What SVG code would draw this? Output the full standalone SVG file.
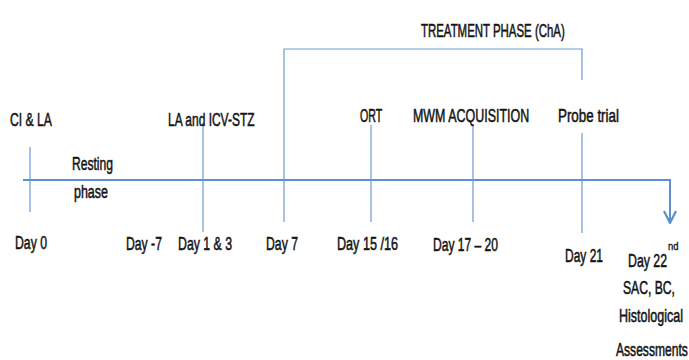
<svg xmlns="http://www.w3.org/2000/svg" width="689" height="360" viewBox="0 0 689 360">
<style>
text{font-family:"Liberation Sans",Arial,sans-serif;font-size:19px;fill:#141414;stroke:#141414;stroke-width:0.55}
text.sup{font-size:10px;stroke-width:0.3}
.tick{stroke:#6b9bd6;stroke-width:1.2;fill:none}
.main{stroke:#5b8fd0;stroke-width:2;fill:none}
</style>
<defs>
<marker id="ah" viewBox="0 0 14 14" refX="13" refY="7" markerWidth="14" markerHeight="14" markerUnits="userSpaceOnUse" orient="auto">
<path d="M1,1 L13,7 L1,13" fill="none" stroke="#5b8fd0" stroke-width="2.2" stroke-linejoin="miter"/>
</marker>
</defs>
<g id="connectors">
<path class="main" d="M23,180 H670 V223" marker-end="url(#ah)"/>
<line class="tick" x1="30" y1="147" x2="30" y2="212"/>
<line class="tick" x1="203" y1="123" x2="203" y2="232"/>
<path class="tick" d="M284,222 V49 H582 V80"/>
<line class="tick" x1="582" y1="133" x2="582" y2="233"/>
<line class="tick" x1="371" y1="125" x2="371" y2="222"/>
<line class="tick" x1="473" y1="125" x2="473" y2="222"/>
</g>
<g id="top-labels">
<text transform="translate(10 126) scale(0.641 1)">CI &amp; LA</text>
<text transform="translate(168 126) scale(0.631 1)">LA and ICV-STZ</text>
<text transform="translate(421 37) scale(0.602 1)">TREATMENT PHASE (ChA)</text>
<text transform="translate(360 122) scale(0.56 1)">ORT</text>
<text transform="translate(413 122) scale(0.656 1)">MWM ACQUISITION</text>
<text transform="translate(558 122) scale(0.704 1)">Probe trial</text>
</g>
<g id="resting">
<text transform="translate(72 170) scale(0.637 1)">Resting</text>
<text transform="translate(74 198) scale(0.657 1)">phase</text>
</g>
<g id="bottom-labels">
<text transform="translate(15 249) scale(0.645 1)">Day 0</text>
<text transform="translate(126 250) scale(0.643 1)">Day -7</text>
<text transform="translate(178 250) scale(0.647 1)">Day 1 &amp; 3</text>
<text transform="translate(266 250) scale(0.645 1)">Day 7</text>
<text transform="translate(337 250) scale(0.664 1)">Day 15 /16</text>
<text transform="translate(433 251) scale(0.635 1)">Day 17 – 20</text>
<text transform="translate(565 262) scale(0.631 1)">Day 21</text>
</g>
<g id="final">
<text transform="translate(628 267) scale(0.648 1)">Day 22</text>
<text class="sup" transform="translate(668 250) scale(0.95 1)">nd</text>
<text transform="translate(623 294) scale(0.64 1)">SAC, BC,</text>
<text transform="translate(619 322) scale(0.659 1)">Histological</text>
<text transform="translate(616 356) scale(0.637 1)">Assessments</text>
</g>
</svg>
